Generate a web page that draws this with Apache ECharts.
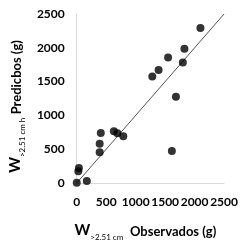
<!DOCTYPE html>
<html>
<head>
<meta charset="utf-8">
<script src="https://cdn.jsdelivr.net/npm/echarts@6/dist/echarts.min.js"></script>
<style>
  html, body { margin: 0; padding: 0; background: #fff; }
  #chart { width: 241px; height: 246px; }
</style>
</head>
<body>
<div id="chart"></div>
<script>
var observados = [0, 171, 37, 27, 389, 389, 408, 630, 690, 790, 1282, 1389, 1550, 1683, 1614, 1800, 1827, 2099];
var predichos  = [5, 29, 222, 174, 455, 581, 741, 766, 735, 693, 1574, 1672, 1856, 1275, 475, 1783, 1987, 2292];
// 1:1 reference line
var lineaX = [0, 2500];
var lineaY = [0, 2500];
var ticks = [0, 500, 1000, 1500, 2000, 2500];

var puntos = observados.map(function (x, i) { return [x, predichos[i]]; });
var linea = lineaX.map(function (x, i) { return [x, lineaY[i]]; });

var font = 'Lato, "Open Sans", sans-serif';
var titleRich = {
    w: {fontSize: 15, fontFamily: font, fontWeight: 'bold', color: '#000', verticalAlign: 'bottom', padding: [0, 0, 3, 0]},
    sub: {fontSize: 8, fontFamily: font, color: '#000', verticalAlign: 'bottom'},
    t: {fontSize: 13, fontFamily: font, fontWeight: 'bold', color: '#000', verticalAlign: 'bottom', padding: [0, 0, 3, 0]}
};
var fmt = function (v) { return String(v); };

var chart = echarts.init(document.getElementById('chart'));
chart.setOption({
    animation: false,
    grid: {left: 70, right: 15, top: 14, bottom: 60},
    xAxis: {
        type: 'value',
        min: ticks[0],
        max: ticks[ticks.length - 1],
        interval: 500,
        splitLine: {show: false},
        axisTick: {show: false},
        axisLine: {show: true, lineStyle: {color: '#d9d9d9', width: 1}},
        axisLabel: {margin: 13, color: '#000', fontFamily: font, fontWeight: 'bold', fontSize: 12, formatter: fmt},
        name: '{w|W}{sub|>2.51 cm}  {t|Observados (g)}',
        nameLocation: 'middle',
        nameGap: 40,
        nameTextStyle: {rich: titleRich, padding: [0, 10, 0, 0]}
    },
    yAxis: {
        type: 'value',
        min: ticks[0],
        max: ticks[ticks.length - 1],
        interval: 500,
        splitLine: {show: false},
        axisTick: {show: false},
        axisLine: {show: true, lineStyle: {color: '#d9d9d9', width: 1}},
        axisLabel: {margin: 12, color: '#000', fontFamily: font, fontWeight: 'bold', fontSize: 12, formatter: fmt},
        name: '{w|W}{sub|>2.51 cm h} {t|Predicbos (g)}',
        nameLocation: 'middle',
        nameRotate: 90,
        nameGap: 46,
        nameTextStyle: {rich: titleRich, padding: [0, 16, 0, 0]}
    },
    series: [
        {
            type: 'line',
            data: linea,
            symbol: 'none',
            lineStyle: {color: '#555', width: 1},
            z: 1
        },
        {
            type: 'scatter',
            data: puntos,
            symbolSize: 8,
            itemStyle: {color: '#000'},
            z: 2
        }
    ]
});
</script>
</body>
</html>
